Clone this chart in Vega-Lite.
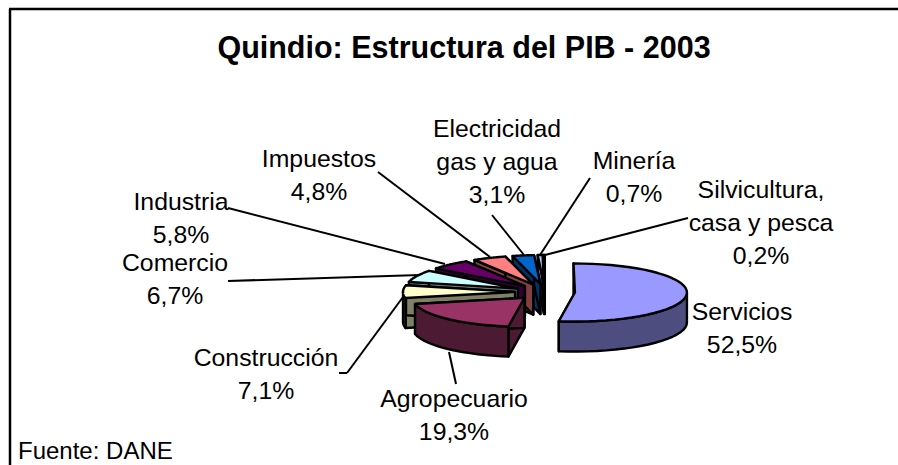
{
  "$schema": "https://vega.github.io/schema/vega-lite/v6.json",
  "width": 898,
  "height": 465,
  "padding": 0,
  "autosize": "none",
  "background": "white",
  "config": {"view": {"stroke": null}, "text": {"font": "Liberation Sans"}},
  "title": {"text": "Quindio: Estructura del PIB - 2003", "font": "Liberation Sans", "fontSize": 30.5, "fontWeight": "bold", "color": "black", "anchor": "middle", "dx": 15, "dy": 68},
  "data": {"values": [
    {"sector": "Silvicultura", "label": "Silvicultura,\ncasa y pesca", "value": 0.2},
    {"sector": "Minería", "label": "Minería", "value": 0.7},
    {"sector": "Electricidad", "label": "Electricidad\ngas y agua", "value": 3.1},
    {"sector": "Impuestos", "label": "Impuestos", "value": 4.8},
    {"sector": "Industria", "label": "Industria", "value": 5.8},
    {"sector": "Comercio", "label": "Comercio", "value": 6.7},
    {"sector": "Construcción", "label": "Construcción", "value": 7.1},
    {"sector": "Agropecuario", "label": "Agropecuario", "value": 19.3},
    {"sector": "Servicios", "label": "Servicios", "value": 52.5}
  ]},
  "transform": [
    {"stack": "value", "groupby": [], "as": ["s0", "s1"]},
    {"calculate": "(100-datum.s1)/100*2*PI", "as": "t0"},
    {"calculate": "(100-datum.s0)/100*2*PI", "as": "t1"},
    {"calculate": "(datum.t0+datum.t1)/2", "as": "tm"},
    {"calculate": "545+30*sin(datum.tm)", "as": "ax"},
    {"calculate": "292-8*cos(datum.tm)", "as": "ay"}
  ],
  "layer": [
    {
      "data": {"values": [{"edge": "left"}]},
      "transform": [],
      "mark": {"type": "rule", "color": "black", "strokeWidth": 2.5},
      "encoding": {
        "x": {"datum": 10, "type": "quantitative", "scale": {"domain": [0, 898]}, "axis": null},
        "y": {"datum": 9, "type": "quantitative", "scale": {"domain": [0, 465], "reverse": true}, "axis": null},
        "y2": {"datum": 465}
      }
    },
    {
      "data": {"values": [{"edge": "top"}]},
      "transform": [],
      "mark": {"type": "rule", "color": "black", "strokeWidth": 2.5},
      "encoding": {
        "x": {"datum": 9, "type": "quantitative", "scale": {"domain": [0, 898]}, "axis": null},
        "x2": {"datum": 898},
        "y": {"datum": 9, "type": "quantitative", "scale": {"domain": [0, 465], "reverse": true}, "axis": null}
      }
    },
    {
      "data": {"values": [{"source": "Fuente: DANE"}]},
      "transform": [],
      "mark": {"type": "text", "align": "left", "baseline": "alphabetic", "fontSize": 24, "font": "Liberation Sans", "color": "black"},
      "encoding": {
        "x": {"datum": 18, "type": "quantitative", "scale": {"domain": [0, 898]}, "axis": null},
        "y": {"datum": 459, "type": "quantitative", "scale": {"domain": [0, 465], "reverse": true}, "axis": null},
        "text": {"field": "source"}
      }
    },
    {
      "transform": [
        {"calculate": "{'Agropecuario':[449,352,456,384],'Construcción':[403,297,347,373],'Comercio':[420,275,228,281],'Industria':[445,264,228,208],'Impuestos':[490,257,378,172],'Electricidad':[524,255,492,215],'Minería':[540,255,590,178],'Silvicultura':[545,255,688,218]}[datum.sector]", "as": "lead"},
        {"filter": "isValid(datum.lead)"},
        {"calculate": "datum.lead[0]", "as": "lx0"},
        {"calculate": "datum.lead[1]", "as": "ly0"},
        {"calculate": "datum.lead[2]", "as": "lx1"},
        {"calculate": "datum.lead[3]", "as": "ly1"}
      ],
      "mark": {"type": "rule", "color": "black", "strokeWidth": 2},
      "encoding": {
        "x": {"field": "lx0", "type": "quantitative", "scale": {"domain": [0, 898]}, "axis": null},
        "y": {"field": "ly0", "type": "quantitative", "scale": {"domain": [0, 465], "reverse": true}, "axis": null},
        "x2": {"field": "lx1"},
        "y2": {"field": "ly1"}
      }
    },
    {
      "transform": [
        {"filter": "datum.sector=='Construcción'"},
        {"calculate": "347", "as": "lx0"},
        {"calculate": "373", "as": "ly0"},
        {"calculate": "339", "as": "lx1"}
      ],
      "mark": {"type": "rule", "color": "black", "strokeWidth": 2},
      "encoding": {
        "x": {"field": "lx0", "type": "quantitative", "scale": {"domain": [0, 898]}, "axis": null},
        "y": {"field": "ly0", "type": "quantitative", "scale": {"domain": [0, 465], "reverse": true}, "axis": null},
        "x2": {"field": "lx1"}
      }
    },
    {
      "transform": [
        {"calculate": "max(datum.t0,PI/2)", "as": "fa"},
        {"calculate": "min(datum.t1,3*PI/2)", "as": "fb"},
        {"calculate": "[0,1,2,3]", "as": "part"},
        {"flatten": ["part"]},
        {"filter": "datum.part!=2 || datum.fb>datum.fa"},
        {"calculate": "sequence(0,42)", "as": "i"},
        {"flatten": ["i"]},
        {"calculate": "datum.part==3 ? ((datum.i==0||datum.i==41)?0:1) : datum.part==2 ? 1 : ((datum.i<10||datum.i>=31)?0:1)", "as": "r"},
        {"calculate": "datum.part==3 ? datum.t0+(datum.i-1)/39*(datum.t1-datum.t0) : datum.part==2 ? datum.fa+(datum.i<=20?datum.i/20:(41-datum.i)/20)*(datum.fb-datum.fa) : (datum.part==0?datum.t0:datum.t1)", "as": "th"},
        {"calculate": "datum.part==3 ? 0 : (datum.i<=20?0:1)", "as": "drop"},
        {"calculate": "datum.ax+datum.r*112*sin(datum.th)", "as": "px"},
        {"calculate": "datum.ay-datum.r*29*cos(datum.th)+datum.drop*30", "as": "py"},
        {"calculate": "datum.sector+(datum.part==3?'':' lado')", "as": "paint"},
        {"calculate": "datum.sector+'-'+datum.part", "as": "key"}
      ],
      "mark": {"type": "line", "interpolate": "linear-closed", "stroke": "black", "strokeWidth": 2.4, "strokeJoin": "round"},
      "encoding": {
        "x": {"field": "px", "type": "quantitative", "scale": {"domain": [0, 898]}, "axis": null},
        "y": {"field": "py", "type": "quantitative", "scale": {"domain": [0, 465], "reverse": true}, "axis": null},
        "detail": {"field": "key"},
        "order": {"field": "i", "type": "quantitative"},
        "fill": {
          "field": "paint",
          "type": "nominal",
          "legend": null,
          "scale": {
            "domain": ["Servicios", "Servicios lado", "Agropecuario", "Agropecuario lado", "Construcción", "Construcción lado", "Comercio", "Comercio lado", "Industria", "Industria lado", "Impuestos", "Impuestos lado", "Electricidad", "Electricidad lado", "Minería", "Minería lado", "Silvicultura", "Silvicultura lado"],
            "range": ["#9999FF", "#4D4D80", "#993366", "#4D1A33", "#FFFFCC", "#808066", "#CCFFFF", "#668080", "#660066", "#330033", "#FF8080", "#804040", "#0066CC", "#003366", "#CCCCFF", "#666680", "#000080", "#000040"]
          }
        }
      }
    },
    {
      "transform": [
        {"calculate": "{'Servicios':[742,320],'Agropecuario':[454,407],'Construcción':[266,366],'Comercio':[175,271],'Industria':[181,210],'Impuestos':[319,167],'Electricidad':[497,137],'Minería':[634,169],'Silvicultura':[761,198]}[datum.sector]", "as": "anchor"},
        {"calculate": "datum.anchor[0]", "as": "tx"},
        {"calculate": "datum.anchor[1]", "as": "ty"},
        {"calculate": "split(datum.label+'\\n'+replace(format(datum.value,'.1f'),'.',',')+'%','\\n')", "as": "lines"}
      ],
      "mark": {"type": "text", "align": "center", "baseline": "alphabetic", "fontSize": 24.8, "lineHeight": 33, "font": "Liberation Sans", "color": "black"},
      "encoding": {
        "x": {"field": "tx", "type": "quantitative", "scale": {"domain": [0, 898]}, "axis": null},
        "y": {"field": "ty", "type": "quantitative", "scale": {"domain": [0, 465], "reverse": true}, "axis": null},
        "text": {"field": "lines"}
      }
    }
  ]
}
